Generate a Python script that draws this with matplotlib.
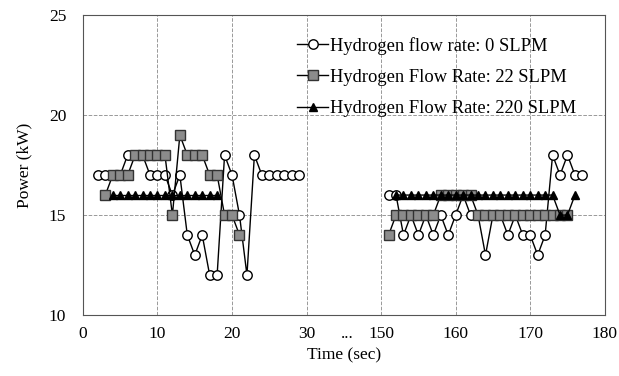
import matplotlib.pyplot as plt
import numpy as np

plt.rcParams['font.family'] = ['Liberation Serif', 'DejaVu Serif']

# time in seconds; the axis skips from 30 s to 150 s
t_early_0 = list(range(2, 30))
p_early_0 = [17, 17, 17, 17, 18, 18, 18, 17, 17, 17, 16, 17, 14, 13, 14, 12, 12,
             18, 17, 15, 12, 18, 17, 17, 17, 17, 17, 17]
t_late_0 = list(range(151, 178))
p_late_0 = [16, 16, 14, 15, 14, 15, 14, 15, 14, 15, 16, 15, 15, 13, 15, 15, 14,
            15, 14, 14, 13, 14, 18, 17, 18, 17, 17]

t_early_22 = list(range(3, 22))
p_early_22 = [16, 17, 17, 17, 18, 18, 18, 18, 18, 15, 19, 18, 18, 18, 17, 17, 15, 15, 14]
t_late_22 = list(range(151, 176))
p_late_22 = [14, 15, 15, 15, 15, 15, 15, 16, 16, 16, 16, 16, 15, 15, 15, 15, 15,
             15, 15, 15, 15, 15, 15, 15, 15]

t_early_220 = list(range(4, 19))
p_early_220 = [16] * 15
t_late_220 = list(range(152, 177))
p_late_220 = [16] * 22 + [15, 15, 16]

tick_times = [0, 10, 20, 30, 150, 160, 170, 180]


def axis_pos(t):
    # compress the 30-150 s gap into a single 10 s slot
    t = np.asarray(t, dtype=float)
    return np.where(t <= 30, t, t - 110)


fig = plt.figure(figsize=(6.19, 3.76), dpi=100)
ax = fig.add_axes([0.134, 0.162, 0.843, 0.798])

series = [
    (t_early_0, p_early_0, t_late_0, p_late_0, 'Hydrogen flow rate: 0 SLPM',
     dict(marker='o', markerfacecolor='white', markeredgecolor='black', markersize=6.8), 2),
    (t_early_22, p_early_22, t_late_22, p_late_22, 'Hydrogen Flow Rate: 22 SLPM',
     dict(marker='s', markerfacecolor='#8c8c8c', markeredgecolor='#333333', markersize=6.8), 3),
    (t_early_220, p_early_220, t_late_220, p_late_220, 'Hydrogen Flow Rate: 220 SLPM',
     dict(marker='^', markerfacecolor='black', markeredgecolor='black', markersize=5.8), 4),
]

for te, pe, tl, pl, label, style, z in series:
    ax.plot(axis_pos(te), pe, color='black', linewidth=1, zorder=z, label=label, **style)
    ax.plot(axis_pos(tl), pl, color='black', linewidth=1, zorder=z, **style)

ax.set_xlim(0, 70)
ax.set_ylim(10, 25)
ax.set_xticks(axis_pos(tick_times))
ax.set_xticklabels([str(t) for t in tick_times])
ax.set_yticks([10, 15, 20, 25])
ax.tick_params(length=0, labelsize=12.5)
ax.tick_params(axis='x', pad=8)
ax.tick_params(axis='y', pad=12)
ax.grid(True, color='#999999', linestyle='--', linewidth=0.7)
for sp in ax.spines.values():
    sp.set_color('#555555')

# gap marker between 30 and 150
ax.text(35.5, -0.075, '...', transform=ax.get_xaxis_transform(), ha='center',
        va='baseline', fontsize=12.5)

ax.set_xlabel('Time (sec)', fontsize=12.5, labelpad=4)
ax.set_ylabel('Power (kW)', fontsize=12.5, labelpad=12)

ax.legend(loc='upper left', bbox_to_anchor=(0.41, 0.928), frameon=False,
          fontsize=13.3, handlelength=1.7, handletextpad=0.1, labelspacing=0.78,
          borderaxespad=0, borderpad=0)

fig.savefig('out.png', dpi=100)
